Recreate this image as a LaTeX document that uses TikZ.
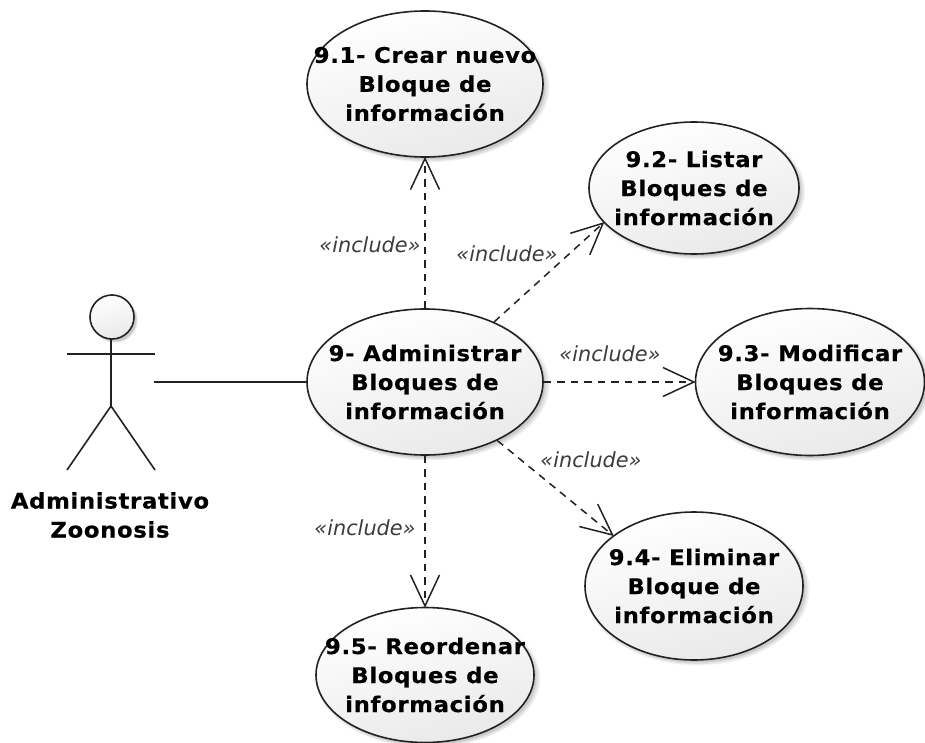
\documentclass[tikz,border=0pt]{standalone}
\usepackage{fontspec}
\setmainfont{DejaVu Sans}
\usetikzlibrary{arrows.meta,shapes.geometric,shadows}
\definecolor{linecol}{HTML}{222222}
\definecolor{inccol}{HTML}{3C3C3C}
\definecolor{shadecol}{HTML}{E9E9E9}
\tikzset{
  softshadow/.style={
    general shadow={fill=black,opacity=.05,shadow xshift=3pt,shadow yshift=-3pt,shadow scale=1.03},
    general shadow={fill=black,opacity=.07,shadow xshift=3pt,shadow yshift=-3pt,shadow scale=1.015},
    general shadow={fill=black,opacity=.10,shadow xshift=2.5pt,shadow yshift=-2.5pt}},
  usecase/.style={ellipse,draw=linecol,line width=1.6pt,inner sep=0pt,softshadow,
    top color=white,bottom color=shadecol,shading angle=15},
  casetext/.style={align=center,inner sep=0pt,text=black,
    font=\fontsize{21.5}{29}\selectfont\bfseries\addfontfeatures{LetterSpace=3,FakeStretch=1.06,FakeBold=0.4}},
  inc/.style={inner sep=0pt,text=inccol,font=\fontsize{20.8}{25}\selectfont\itshape},
  limb/.style={draw=linecol,line width=1.6pt},
  dep/.style={draw=linecol,line width=1.5pt,dash pattern=on 7.5pt off 6pt,
    -{Straight Barb[length=31pt,width=29pt,line width=1.5pt,sep=-1pt]}},
}
\begin{document}
\begin{tikzpicture}[x=1pt,y=-1pt]
\useasboundingbox (0,0) rectangle (925,743);
% use cases
\node[usecase,minimum width=236pt,minimum height=146pt] (u0) at (425,382) {};
\node[usecase,minimum width=236pt,minimum height=146pt] (u1) at (425,84) {};
\node[usecase,minimum width=210pt,minimum height=132pt] (u2) at (694,188) {};
\node[usecase,minimum width=229pt,minimum height=147pt] (u3) at (810,382) {};
\node[usecase,minimum width=218pt,minimum height=148pt] (u4) at (694,586) {};
\node[usecase,minimum width=218pt,minimum height=135pt] (u5) at (425,675) {};
\node[casetext] (t0) at (u0) {9- Administrar\\Bloques de\\información};
\node[casetext] (t1) at (u1) {9.1- Crear nuevo\\Bloque de\\información};
\node[casetext] (t2) at (u2) {9.2- Listar\\Bloques de\\información};
\node[casetext] (t3) at (u3) {9.3- Modificar\\Bloques de\\información};
\node[casetext] (t4) at (u4) {9.4- Eliminar\\Bloque de\\información};
\node[casetext] (t5) at (u5) {9.5- Reordenar\\Bloques de\\información};
% actor
\node[circle,draw=linecol,line width=1.6pt,minimum size=44pt,inner sep=0pt,softshadow,
  top color=white,bottom color=shadecol,shading angle=15] (head) at (112,317) {};
\coordinate (hip) at (111,406);
\coordinate (neck) at (111,339);
\coordinate (armL) at (67,354);
\coordinate (armR) at (155,354);
\coordinate (footL) at (67,470);
\coordinate (footR) at (155,470);
\coordinate (actorEnd) at (154,382);
\draw[limb] (neck) -- (hip);
\draw[limb] (armL) -- (armR);
\draw[limb] (footL) -- (hip) -- (footR);
\node[casetext] (actor) at (110,515) {Administrativo\\Zoonosis};
% association
\draw[limb] (actorEnd) -- (u0.west);
% includes
\draw[dep] (u0.north) -- (u1.south);
\draw[dep] (u0.41.8) -- (u2.201);
\draw[dep] (u0.east) -- (u3.west);
\draw[dep] (u0.-39.6) -- (u4.148);
\draw[dep] (u0.south) -- (u5.north);
% labels
\node[inc] (i1) at (370,245) {«include»};
\node[inc] (i2) at (507,254) {«include»};
\node[inc] (i3) at (610,354) {«include»};
\node[inc] (i4) at (591,460) {«include»};
\node[inc] (i5) at (365,528) {«include»};
\end{tikzpicture}
\end{document}
